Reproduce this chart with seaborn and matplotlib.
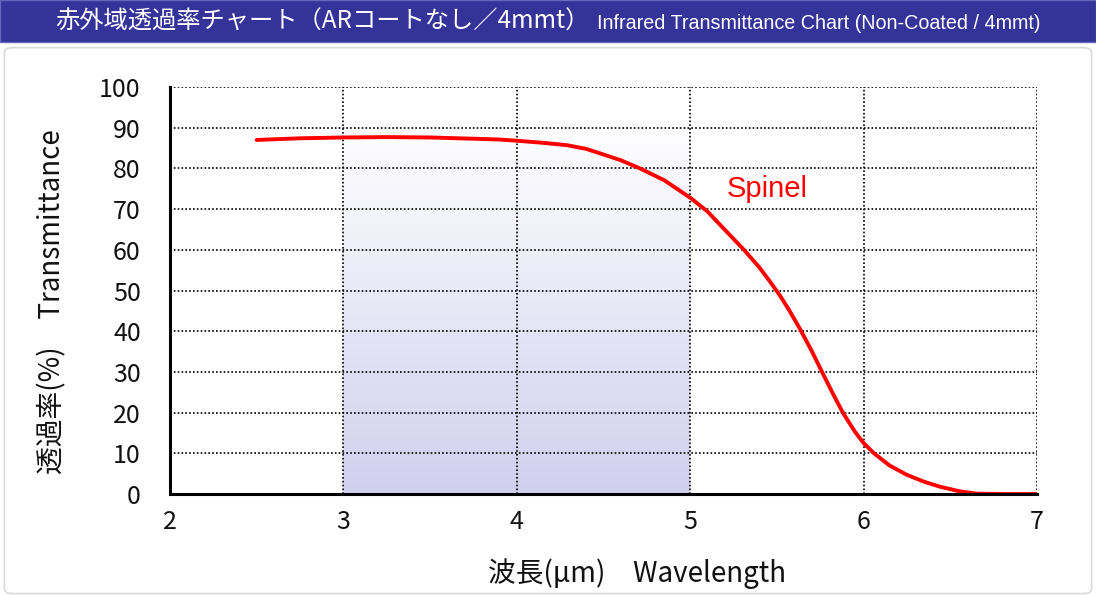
import numpy as np
import seaborn as sns
import matplotlib.pyplot as plt
from matplotlib.patches import Rectangle, FancyBboxPatch
from matplotlib.colors import LinearSegmentedColormap

# Spinel transmittance
wavelength = [2.5, 2.75, 3.0, 3.25, 3.5, 3.75, 3.9, 4.0, 4.15, 4.29, 4.4, 4.48, 4.6, 4.71,
              4.85, 5.0, 5.1, 5.2, 5.31, 5.4, 5.46, 5.52, 5.57, 5.63, 5.7, 5.76, 5.82, 5.88,
              5.95, 6.0, 6.06, 6.15, 6.25, 6.35, 6.44, 6.55, 6.65, 6.8, 7.0]
transmittance = [87.0, 87.4, 87.6, 87.7, 87.6, 87.3, 87.1, 86.8, 86.3, 85.7, 84.8, 83.7, 82.0, 80.0,
                 77.1, 72.8, 69.4, 64.9, 60.0, 55.6, 52.2, 48.6, 45.2, 40.8, 35.2, 30.0, 24.9, 20.0,
                 15.3, 12.5, 10.0, 7.0, 4.7, 3.0, 1.8, 0.7, 0.1, 0.0, 0.0]

x_ticks = [2, 3, 4, 5, 6, 7]
y_ticks = list(range(0, 101, 10))
band = (3, 5)        # highlighted wavelength band
band_top = 92

title_jp = "赤外域透過率チャート（ARコートなし／4mmt）"
title_en = "Infrared Transmittance Chart (Non-Coated / 4mmt)"
xlabel = "波長(μm)　Wavelength"
ylabel = "透過率(%)　Transmittance"

sns.set_theme(style="white")
plt.rcParams['font.family'] = ['Noto Sans CJK JP', 'DejaVu Sans']

fig = plt.figure(figsize=(10.96, 5.96), dpi=100)

# title banner and outer frame
fig.patches.append(Rectangle((0, 0.93), 1, 0.07, transform=fig.transFigure,
                             facecolor='#333399', edgecolor='#6666bb', lw=1, zorder=-1))
fig.patches.append(FancyBboxPatch((0.004, 0.004), 0.992, 0.916, transform=fig.transFigure,
                                  boxstyle="round,pad=0,rounding_size=0.008",
                                  facecolor='none', edgecolor='#d9d9d9', lw=1.2, zorder=-1))
fig.text(0.05, 0.963, title_jp, color='white', fontsize=17.5, va='center', ha='left')
fig.text(0.545, 0.961, title_en, color='white', fontsize=14.2, va='center', ha='left',
         family=['Liberation Sans Narrow', 'Liberation Sans', 'DejaVu Sans'])

ax = fig.add_axes([0.1551, 0.1711, 0.7911, 0.6829])

# gradient band
cmap = LinearSegmentedColormap.from_list('band', ['#d0d0ee', '#ffffff'])
grad = np.linspace(0, 1, 256).reshape(-1, 1)
ax.imshow(grad, extent=[band[0], band[1], 0, band_top], origin='lower', aspect='auto',
          cmap=cmap, zorder=0.5)

sns.lineplot(x=wavelength, y=transmittance, ax=ax, color='#ff0000', lw=2.8, zorder=3)
ax.text(5.21, 75, "Spinel", color='#ff0000', fontsize=21, ha='left', va='center',
        family=['Liberation Sans', 'DejaVu Sans'])

ax.set_xlim(2, 7)
ax.set_ylim(0, 100)
ax.set_xticks(x_ticks)
ax.set_yticks(y_ticks)
ax.grid(True, color='black', linestyle=(0, (1, 1.3)), lw=1.2)
ax.set_axisbelow(False)
for gl in ax.get_xgridlines() + ax.get_ygridlines():
    gl.set_zorder(1)

for s in ['top', 'right']:
    ax.spines[s].set_visible(False)
for s in ['left', 'bottom']:
    ax.spines[s].set_color('black')
    ax.spines[s].set_linewidth(2.2)
    ax.spines[s].set_zorder(4)

ax.tick_params(axis='y', length=0, pad=21, labelsize=18, labelcolor='#111111')
ax.tick_params(axis='x', length=0, pad=11, labelsize=18, labelcolor='#111111')
ax.set_xlabel(xlabel, fontsize=20, color='#111111')
ax.set_ylabel(ylabel, fontsize=20, color='#111111')
ax.xaxis.set_label_coords(0.539, -0.158)
ax.yaxis.set_label_coords(-0.1188, 0.472)

fig.savefig('out.png', dpi=100)
